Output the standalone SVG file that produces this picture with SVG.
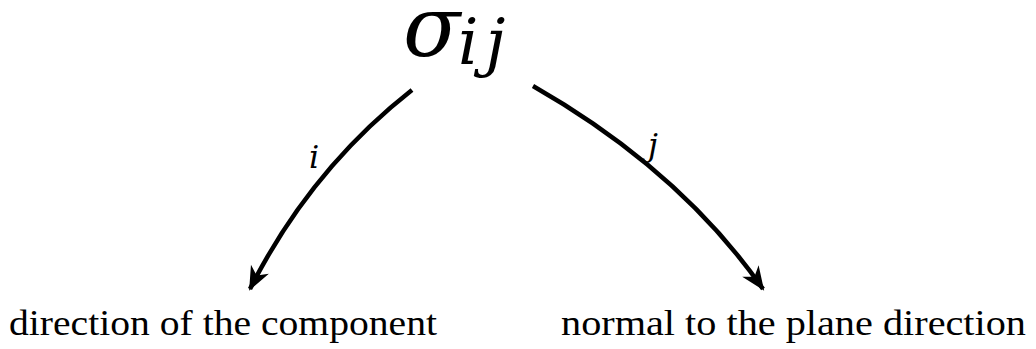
<svg xmlns="http://www.w3.org/2000/svg" width="1036" height="349" viewBox="0 0 1036 349">
<style>
.conn{fill:none;stroke:#000;stroke-width:4.5;}
.lbl{font-family:"Liberation Serif","DejaVu Serif",serif;fill:#000;}
.m{font-family:"DejaVu Serif","Liberation Serif",serif;font-style:italic;fill:#000;}
</style>
<defs>
<marker id="arr" markerUnits="userSpaceOnUse" viewBox="-24 -12 28 24" refX="0" refY="0" markerWidth="28" markerHeight="24" orient="auto">
<path d="M2,0 L-22,-10 L-15,0 L-22,10 Z" fill="#000"/>
</marker>
</defs>
<rect width="1036" height="349" fill="#fff"/>
<g id="sigma">
<text class="m" x="403" y="56" font-size="84">σ</text>
<text class="m" x="458" y="64" font-size="64" letter-spacing="7">ij</text>
</g>
<g id="left">
<text class="lbl" x="9" y="335" font-size="36" textLength="428" lengthAdjust="spacingAndGlyphs">direction of the component</text>
</g>
<g id="right">
<text class="lbl" x="561" y="335" font-size="36" textLength="465" lengthAdjust="spacingAndGlyphs">normal to the plane direction</text>
</g>
<g id="connectors">
<path class="conn" d="M412,90 Q310,170 250,289" marker-end="url(#arr)"/>
<path class="conn" d="M533,86 Q680,170 763,289" marker-end="url(#arr)"/>
<text class="m" x="309" y="168" font-size="32">i</text>
<text class="m" x="648" y="156" font-size="32">j</text>
</g>
</svg>
